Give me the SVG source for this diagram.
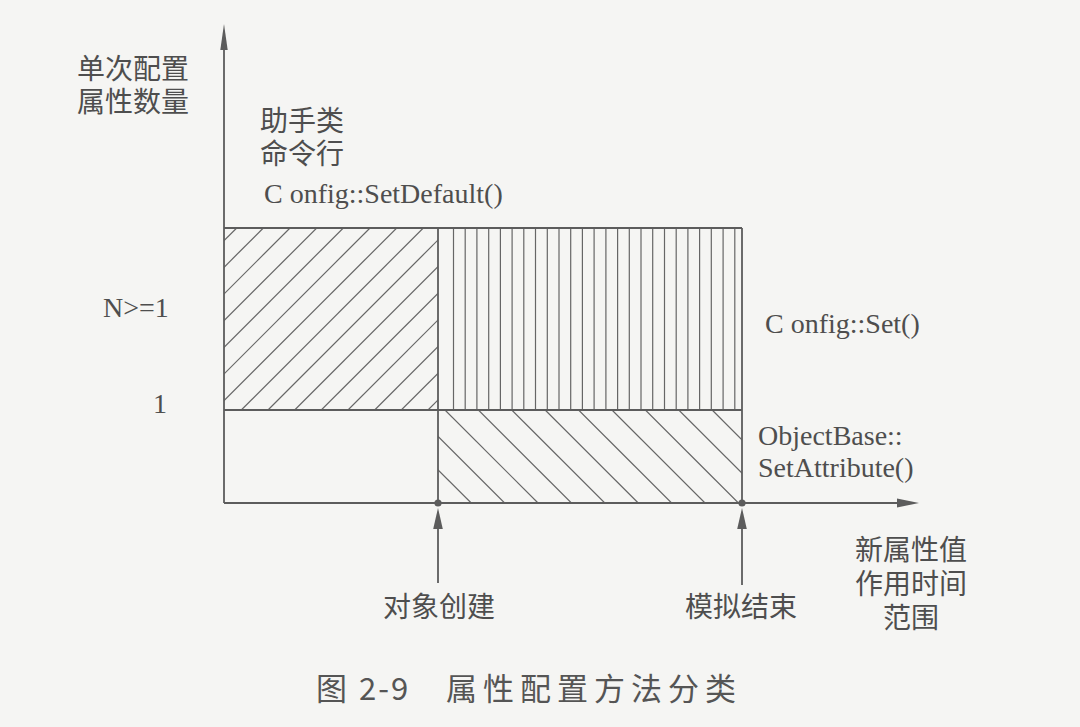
<svg xmlns="http://www.w3.org/2000/svg" width="1080" height="727" viewBox="0 0 1080 727">
  <defs>
    <style>
      .bg { fill: #f5f5f3; }
      .frame { fill: none; stroke: #5c5c5c; stroke-width: 1.8; }
      .hatch { stroke: #666; stroke-width: 1.2; fill: none; }
      .axis { stroke: #5c5c5c; stroke-width: 1.8; fill: none; }
      .head { fill: #5c5c5c; }
      .dot { fill: #5c5c5c; }
      .cjk { font-family: "Noto Sans CJK SC", sans-serif; font-size: 28px; fill: #4e4e4e; }
      .lat { font-family: "Liberation Serif", serif; font-size: 28px; fill: #4e4e4e; }
      .cap { font-family: "Noto Sans CJK SC", sans-serif; font-size: 31px; fill: #555; }
    </style>
    <clipPath id="clipA"><rect x="224" y="228" width="214" height="182"/></clipPath>
    <clipPath id="clipC"><rect x="438" y="228" width="304" height="182"/></clipPath>
    <clipPath id="clipD"><rect x="438" y="410" width="304" height="93"/></clipPath>
  </defs>

  <rect class="bg" x="0" y="0" width="1080" height="727"/>

  <!-- region: N>=1, before object creation (forward diagonal hatch) -->
  <g id="region-default">
    <g class="hatch" clip-path="url(#clipA)">
      <line x1="236.7" y1="228" x2="54.7" y2="410"/>
      <line x1="263.3" y1="228" x2="81.3" y2="410"/>
      <line x1="290" y1="228" x2="108" y2="410"/>
      <line x1="316.7" y1="228" x2="134.7" y2="410"/>
      <line x1="343.3" y1="228" x2="161.3" y2="410"/>
      <line x1="370" y1="228" x2="188" y2="410"/>
      <line x1="396.7" y1="228" x2="214.7" y2="410"/>
      <line x1="423.3" y1="228" x2="241.3" y2="410"/>
      <line x1="450" y1="228" x2="268" y2="410"/>
      <line x1="476.7" y1="228" x2="294.7" y2="410"/>
      <line x1="503.3" y1="228" x2="321.3" y2="410"/>
      <line x1="530" y1="228" x2="348" y2="410"/>
      <line x1="556.7" y1="228" x2="374.7" y2="410"/>
      <line x1="583.3" y1="228" x2="401.3" y2="410"/>
      <line x1="610" y1="228" x2="428" y2="410"/>
    </g>
  </g>

  <!-- region: N>=1, after object creation (vertical hatch) -->
  <g id="region-config-set">
    <g class="hatch" clip-path="url(#clipC)">
      <line x1="453.5" y1="228" x2="453.5" y2="410"/>
      <line x1="465.2" y1="228" x2="465.2" y2="410"/>
      <line x1="476.9" y1="228" x2="476.9" y2="410"/>
      <line x1="488.7" y1="228" x2="488.7" y2="410"/>
      <line x1="500.4" y1="228" x2="500.4" y2="410"/>
      <line x1="512.1" y1="228" x2="512.1" y2="410"/>
      <line x1="523.8" y1="228" x2="523.8" y2="410"/>
      <line x1="535.5" y1="228" x2="535.5" y2="410"/>
      <line x1="547.3" y1="228" x2="547.3" y2="410"/>
      <line x1="559" y1="228" x2="559" y2="410"/>
      <line x1="570.7" y1="228" x2="570.7" y2="410"/>
      <line x1="582.4" y1="228" x2="582.4" y2="410"/>
      <line x1="594.1" y1="228" x2="594.1" y2="410"/>
      <line x1="605.9" y1="228" x2="605.9" y2="410"/>
      <line x1="617.6" y1="228" x2="617.6" y2="410"/>
      <line x1="629.3" y1="228" x2="629.3" y2="410"/>
      <line x1="641" y1="228" x2="641" y2="410"/>
      <line x1="652.7" y1="228" x2="652.7" y2="410"/>
      <line x1="664.5" y1="228" x2="664.5" y2="410"/>
      <line x1="676.2" y1="228" x2="676.2" y2="410"/>
      <line x1="687.9" y1="228" x2="687.9" y2="410"/>
      <line x1="699.6" y1="228" x2="699.6" y2="410"/>
      <line x1="711.3" y1="228" x2="711.3" y2="410"/>
      <line x1="723.1" y1="228" x2="723.1" y2="410"/>
      <line x1="734.8" y1="228" x2="734.8" y2="410"/>
    </g>
  </g>

  <!-- region: single attribute, after object creation (back diagonal hatch) -->
  <g id="region-set-attribute">
    <g class="hatch" clip-path="url(#clipD)">
      <line x1="378.2" y1="410" x2="471.2" y2="503"/>
      <line x1="411.6" y1="410" x2="504.6" y2="503"/>
      <line x1="445" y1="410" x2="538" y2="503"/>
      <line x1="478.4" y1="410" x2="571.4" y2="503"/>
      <line x1="511.8" y1="410" x2="604.8" y2="503"/>
      <line x1="545.2" y1="410" x2="638.2" y2="503"/>
      <line x1="578.6" y1="410" x2="671.6" y2="503"/>
      <line x1="612" y1="410" x2="705" y2="503"/>
      <line x1="645.4" y1="410" x2="738.4" y2="503"/>
      <line x1="678.8" y1="410" x2="771.8" y2="503"/>
      <line x1="712.2" y1="410" x2="805.2" y2="503"/>
    </g>
  </g>

  <!-- region: single attribute, before object creation (empty) -->
  <g id="region-empty"></g>

  <!-- frame of the regions -->
  <g id="grid" class="frame">
    <line x1="224" y1="228" x2="742" y2="228"/>
    <line x1="224" y1="410" x2="742" y2="410"/>
    <line x1="438" y1="228" x2="438" y2="503"/>
    <line x1="742" y1="228" x2="742" y2="503"/>
  </g>

  <!-- axes and time markers -->
  <g id="connectors">
    <line class="axis" x1="224" y1="503" x2="224" y2="46"/>
    <polygon class="head" points="224,24 220.3,50 227.7,50"/>
    <line class="axis" x1="224" y1="503" x2="900" y2="503"/>
    <polygon class="head" points="919,503 897,498.5 897,507.5"/>
    <circle class="dot" cx="438" cy="503" r="3.6"/>
    <circle class="dot" cx="742" cy="503" r="3.6"/>
    <line class="axis" x1="438" y1="525" x2="438" y2="583"/>
    <polygon class="head" points="438,508 433.2,529 442.8,529"/>
    <line class="axis" x1="742" y1="525" x2="742" y2="585"/>
    <polygon class="head" points="742,508 737.2,529 746.8,529"/>
  </g>

  <!-- axis labels -->
  <g id="label-y-axis">
    <text class="cjk" x="77" y="79">单次配置</text>
    <text class="cjk" x="77" y="112">属性数量</text>
  </g>
  <g id="label-x-axis">
    <text class="cjk" x="911" y="560" text-anchor="middle">新属性值</text>
    <text class="cjk" x="911" y="594" text-anchor="middle">作用时间</text>
    <text class="cjk" x="911" y="628" text-anchor="middle">范围</text>
  </g>
  <g id="label-levels">
    <text class="lat" x="103" y="317">N&gt;=1</text>
    <text class="lat" x="153" y="413">1</text>
  </g>
  <g id="label-events">
    <text class="cjk" x="439" y="617" text-anchor="middle">对象创建</text>
    <text class="cjk" x="741" y="617" text-anchor="middle">模拟结束</text>
  </g>

  <!-- configuration methods -->
  <g id="method-default">
    <text class="cjk" x="260" y="131">助手类</text>
    <text class="cjk" x="260" y="164">命令行</text>
    <text class="lat" x="264" y="203">C onfig::SetDefault()</text>
  </g>
  <g id="method-config-set">
    <text class="lat" x="765" y="333">C onfig::Set()</text>
  </g>
  <g id="method-set-attribute">
    <text class="lat" x="758" y="445">ObjectBase::</text>
    <text class="lat" x="758" y="477">SetAttribute()</text>
  </g>

  <!-- caption -->
  <g id="caption">
    <text class="cap" x="316" y="700">图</text>
    <text class="cap" x="359" y="700" letter-spacing="2">2-9</text>
    <text class="cap" x="446" y="700" letter-spacing="6">属性配置方法分类</text>
  </g>
</svg>
